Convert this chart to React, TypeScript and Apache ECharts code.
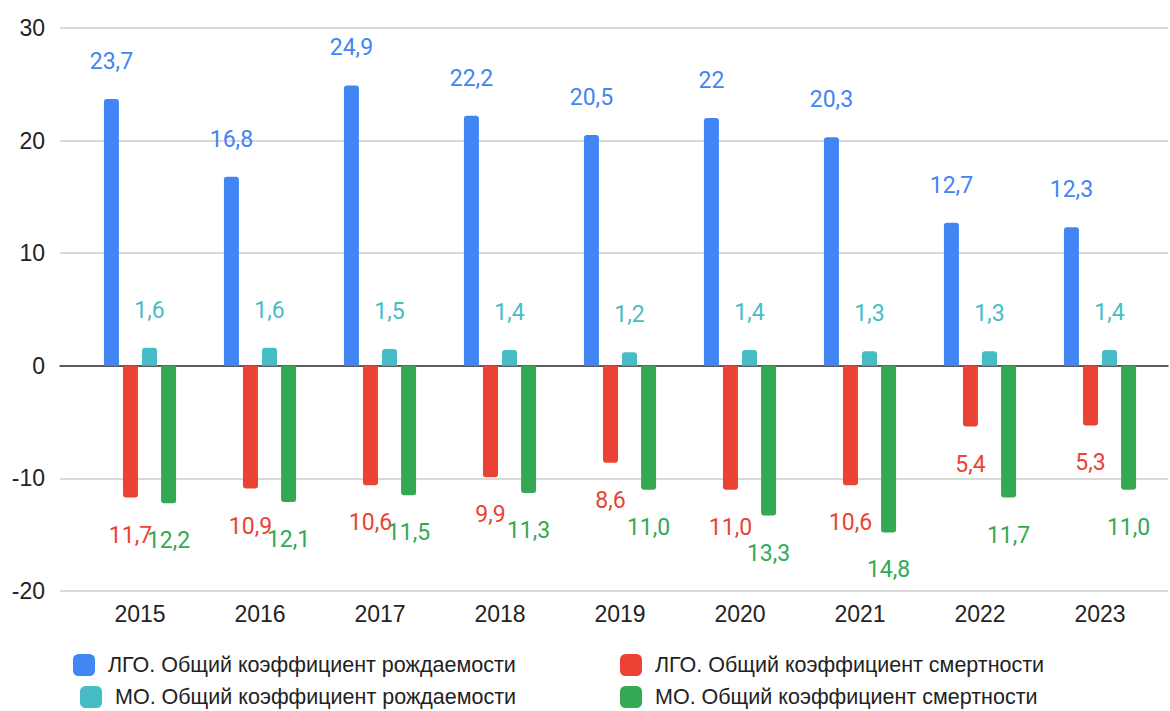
import React, { useEffect, useRef } from "react";
import * as echarts from "echarts";

const categories = ["2015", "2016", "2017", "2018", "2019", "2020", "2021", "2022", "2023"];
const lgoBirth = [23.7, 16.8, 24.9, 22.2, 20.5, 22, 20.3, 12.7, 12.3];
const lgoDeath = [-11.7, -10.9, -10.6, -9.9, -8.6, -11.0, -10.6, -5.4, -5.3];
const moBirth = [1.6, 1.6, 1.5, 1.4, 1.2, 1.4, 1.3, 1.3, 1.4];
const moDeath = [-12.2, -12.1, -11.5, -11.3, -11.0, -13.3, -14.8, -11.7, -11.0];
const yTicks = { min: -20, max: 30, interval: 10 };

const names = [
  "ЛГО. Общий коэффициент рождаемости",
  "ЛГО. Общий коэффициент смертности",
  "МО. Общий коэффициент рождаемости",
  "МО. Общий коэффициент смертности",
];
const colors = ["#4285F4", "#EA4335", "#46BDC6", "#34A853"];

const fmtPlain = (p: any) => String(p.value).replace(".", ",");
const fmtFixed = (p: any) => Math.abs(p.value).toFixed(1).replace(".", ",");

export default function App() {
  const ref = useRef<HTMLDivElement>(null);
  useEffect(() => {
    if (!ref.current) return;
    const chart = echarts.init(ref.current, undefined, { renderer: "svg" });
    const labelBase = {
      show: true,
      fontFamily: "Roboto",
      fontSize: 23,
      distance: 26,
    };
    const mkSeries = (i: number, data: number[], neg: boolean, fmt: any) => ({
      type: "bar",
      name: names[i],
      xAxisIndex: 0,
      yAxisIndex: 0,
      data,
      barWidth: 15,
      barGap: "27%",
      itemStyle: { color: colors[i], borderRadius: neg ? [0, 0, 3, 3] : [3, 3, 0, 0] },
      label: { ...labelBase, position: neg ? "bottom" : "top", color: colors[i], formatter: fmt },
    });
    const legendText = {
      fontFamily: "Liberation Sans",
      fontSize: 21.5,
      color: "#222",
      padding: [0, 0, 0, 8],
      lineHeight: 22,
    };
    const mkLegend = (i: number, left: number, top: number) => ({
      data: [names[i]],
      left,
      top,
      icon: "roundRect",
      itemWidth: 22,
      itemHeight: 22,
      textStyle: legendText,
      selectedMode: false,
    });
    chart.setOption({
      animation: false,
      backgroundColor: "#fff",
      grid: [
        { left: 80, right: 10, top: 28, bottom: 120 },
        { left: 60, right: 2, top: 28, bottom: 120 },
      ],
      legend: [
        mkLegend(0, 68, 649),
        mkLegend(1, 615, 649),
        mkLegend(2, 75, 681),
        mkLegend(3, 615, 681),
      ],
      xAxis: [
        {
          type: "category",
          gridIndex: 0,
          data: categories,
          axisLine: { show: false, onZero: false },
          axisTick: { show: false },
          axisLabel: { fontFamily: "Liberation Sans", fontSize: 23, color: "#222", margin: 11 },
        },
        {
          type: "category",
          gridIndex: 1,
          data: [""],
          axisLine: { show: true, onZero: true, lineStyle: { color: "#333", width: 1.5 } },
          axisTick: { show: false },
          axisLabel: { show: false },
          splitLine: { show: false },
        },
      ],
      yAxis: [
        {
          type: "value",
          gridIndex: 0,
          ...yTicks,
          show: false,
          splitLine: { show: false },
        },
        {
          type: "value",
          gridIndex: 1,
          ...yTicks,
          axisLine: { show: false },
          axisTick: { show: false },
          axisLabel: { fontFamily: "Liberation Sans", fontSize: 23, color: "#222", margin: 15 },
          splitLine: { lineStyle: { color: "#ccc", width: 1.5 } },
        },
      ],
      series: [
        mkSeries(0, lgoBirth, false, fmtPlain),
        mkSeries(1, lgoDeath, true, fmtFixed),
        mkSeries(2, moBirth, false, fmtFixed),
        mkSeries(3, moDeath, true, fmtFixed),
      ],
    });
    return () => chart.dispose();
  }, []);
  return (
    <div
      ref={ref}
      style={{ position: "absolute", left: 0, top: 0, width: 1170, height: 711 }}
    />
  );
}
